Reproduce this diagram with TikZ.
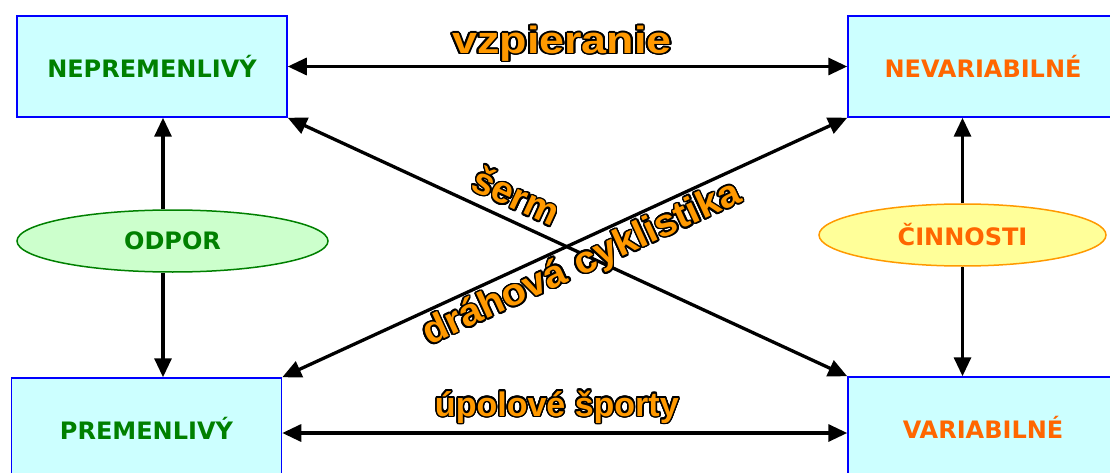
\documentclass[tikz,border=0pt]{standalone}
\usepackage{fontspec}
\setmainfont{DejaVu Sans}
\newfontfamily\lblfont{Liberation Sans}
\usepackage{graphicx}
\usepackage[copies]{contour}
\usetikzlibrary{arrows.meta, positioning, shapes.geometric}
\definecolor{boxfill}{RGB}{204,255,255}
\definecolor{boxline}{RGB}{0,0,255}
\definecolor{darkgreen}{RGB}{0,128,0}
\definecolor{lightgreen}{RGB}{204,255,204}
\definecolor{deeporange}{RGB}{255,102,0}
\definecolor{lightyellow}{RGB}{255,255,153}
\definecolor{amber}{RGB}{255,153,0}
\contourlength{1.5pt}
\contournumber{24}
% orange sport label with black outline
\newcommand{\sportlbl}[2][1]{\scalebox{#1}[1]{\contour{black}{#2}}}

\begin{document}
\begin{tikzpicture}[x=1pt, y=-1pt,
  box/.style={draw=boxline, line width=1.5pt, fill=boxfill, minimum width=270pt, minimum height=101pt, inner sep=0pt, font=\bfseries\fontsize{24}{24}\selectfont},
  oval/.style={ellipse, line width=1.5pt, minimum height=62pt, inner sep=0pt, font=\bfseries\fontsize{24}{24}\selectfont},
  link/.style={line width=3.3pt, -{Triangle[length=19pt,width=17pt]}},
  twoway/.style={line width=3.3pt, {Triangle[length=19pt,width=17pt]}-{Triangle[length=19pt,width=17pt]}},
  sport/.style={text=amber, font=\lblfont\bfseries\fontsize{34}{34}\selectfont, inner sep=0pt}]
  \useasboundingbox (0,0) rectangle (1110,473);
  % the four boxes
  \node[box, text=darkgreen] (nep) at (152,66.5) {NEPREMENLIVÝ};
  \node[box, text=deeporange] (nev) at (983,66.5) {NEVARIABILNÉ};
  \node[box, text=darkgreen] (prem) at (146.5,428.5) {PREMENLIVÝ};
  \node[box, text=deeporange] (var) at (983,427.5) {VARIABILNÉ};
  % ovals
  \node[oval, draw=darkgreen, fill=lightgreen, text=darkgreen, minimum width=311pt] (odpor) at (172.5,241) {ODPOR};
  \node[oval, draw=amber, fill=lightyellow, text=deeporange, minimum width=287pt] (cin) at (962.5,235) {ČINNOSTI};
  % vertical arrows
  \draw[link] (odpor.north -| 163,0) -- (nep.south -| 163,0);
  \draw[link] (odpor.south -| 163,0) -- (prem.north -| 163,0);
  \draw[link] (cin.north) -- (cin.north |- nev.south);
  \draw[link] (cin.south) -- (cin.south |- var.north);
  % horizontal arrows
  \draw[twoway] (nep.east) -- (nev.west)
    node[sport, pos=0.49, anchor=base, yshift=13pt, font=\lblfont\bfseries\fontsize{38}{38}\selectfont] {\sportlbl[1.18]{vzpieranie}};
  \draw[twoway] (prem.east |- 0,433) -- (var.west |- 0,433)
    node[sport, pos=0.486, anchor=base, yshift=17pt] {\sportlbl{úpolové športy}};
  % diagonals
  \draw[twoway] (nep.south east) -- (var.north west)
    node[sport, pos=0.39, sloped, above=8pt, font=\lblfont\bfseries\fontsize{38}{38}\selectfont] {\sportlbl{šerm}};
  \draw[twoway] (prem.north east) -- (nev.south west)
    node[sport, pos=0.514, sloped, below=3pt, font=\lblfont\bfseries\fontsize{38}{38}\selectfont] {\sportlbl[1.05]{dráhová cyklistika}};
\end{tikzpicture}
\end{document}
